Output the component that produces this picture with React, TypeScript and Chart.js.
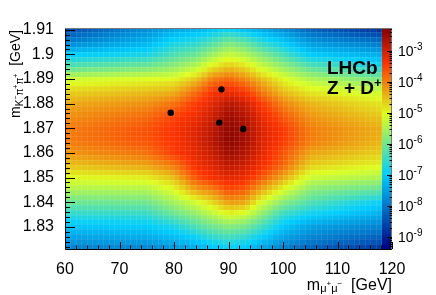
import React, { useEffect, useRef } from 'react';
import { Chart, registerables } from 'chart.js';

Chart.register(...registerables);

// ---- axis ranges & ticks ----
const X_MIN = 60;
const X_MAX = 120;
const Y_MIN = 1.821;
const Y_MAX = 1.9107;
const xTickValues = [60, 70, 80, 90, 100, 110, 120];
const yTickValues = [1.83, 1.84, 1.85, 1.86, 1.87, 1.88, 1.89, 1.9, 1.91];
const colorbarDecades = [-9, -8, -7, -6, -5, -4, -3];
const LOG_MIN = -9.39;
const LOG_MAX = -2.26;

// ---- candidates (m_mumu [GeV], m_Kpipi [GeV]) ----
const candidateMuMuMass = [79.4, 88.7, 88.3, 92.7];
const candidateKPiPiMass = [1.8763, 1.8858, 1.8723, 1.8697];

// ---- histogram binning ----
const X_BIN_WIDTH = 1;
const Y_BIN_WIDTH = 0.002;

// ---- log10(density) at these grid points ----
const knotMuMuMass = [60, 75, 80, 84, 87, 90, 93, 96, 100, 105, 120];
const knotKPiPiMass = [
  1.91, 1.905, 1.9, 1.895, 1.89, 1.885, 1.88, 1.875, 1.87, 1.865,
  1.86, 1.855, 1.85, 1.845, 1.84, 1.835, 1.83, 1.825, 1.82,
];
const logDensity = [
  [-8.5, -7.7, -7.4, -7.25, -7.05, -6.85, -7.1, -7.35, -7.7, -8.2, -8.9],
  [-7.9, -7.3, -6.8, -6.65, -6.32, -5.95, -6.15, -6.6, -7.0, -7.6, -8.1],
  [-7.0, -6.75, -6.3, -6.05, -5.6, -5.25, -5.45, -5.85, -6.35, -7.0, -7.4],
  [-6.2, -5.95, -5.7, -5.35, -4.85, -4.55, -4.75, -5.2, -5.65, -6.2, -6.8],
  [-5.2, -5.05, -5.0, -4.6, -4.0, -3.8, -4.1, -4.5, -5.0, -5.45, -6.0],
  [-4.7, -4.55, -4.45, -3.9, -3.4, -3.25, -3.45, -4.0, -4.55, -4.9, -5.3],
  [-4.35, -4.15, -3.9, -3.45, -3.15, -2.75, -2.95, -3.45, -4.05, -4.45, -4.9],
  [-4.15, -3.85, -3.5, -3.25, -2.95, -2.5, -2.7, -3.2, -3.7, -4.2, -4.65],
  [-4.0, -3.65, -3.38, -3.1, -2.8, -2.38, -2.58, -3.08, -3.45, -4.0, -4.45],
  [-4.0, -3.65, -3.38, -3.08, -2.75, -2.37, -2.55, -3.05, -3.45, -4.0, -4.5],
  [-4.2, -3.9, -3.45, -3.15, -2.9, -2.5, -2.7, -3.15, -3.65, -4.3, -4.7],
  [-4.55, -4.3, -3.95, -3.3, -3.1, -2.8, -2.95, -3.3, -3.8, -4.65, -5.0],
  [-5.0, -4.9, -4.5, -3.65, -3.35, -3.15, -3.25, -3.7, -4.35, -5.2, -5.5],
  [-5.5, -5.45, -5.05, -4.3, -4.05, -3.6, -3.75, -4.35, -5.05, -5.8, -6.2],
  [-6.05, -6.0, -5.55, -5.15, -4.75, -4.25, -4.35, -5.1, -5.8, -6.3, -7.0],
  [-6.6, -6.55, -6.1, -5.75, -5.4, -5.05, -5.2, -5.75, -6.55, -6.9, -7.45],
  [-7.1, -7.0, -6.75, -6.3, -6.0, -5.8, -5.95, -6.4, -7.05, -7.5, -7.9],
  [-7.55, -7.45, -7.25, -7.0, -6.65, -6.5, -6.65, -7.05, -7.55, -7.9, -8.4],
  [-8.0, -7.95, -7.7, -7.5, -7.25, -7.1, -7.2, -7.6, -8.0, -8.4, -9.0],
];

// ---- colour palette (LHCb style gradient) ----
const paletteStops = [0.0, 0.34, 0.61, 0.84, 1.0];
const paletteRed = [0.0, 0.0, 0.87, 1.0, 0.51];
const paletteGreen = [0.0, 0.81, 1.0, 0.2, 0.0];
const paletteBlue = [0.51, 1.0, 0.12, 0.0, 0.0];

const FONT = "'Liberation Sans', Arial, Helvetica, sans-serif";

function findSeg(arr: number[], v: number, desc: boolean) {
  const n = arr.length;
  for (let i = 0; i < n - 1; i++) {
    const a = arr[i];
    const b = arr[i + 1];
    if (desc ? v <= a && v >= b : v >= a && v <= b) {
      return { i, f: (v - a) / (b - a) };
    }
  }
  if (desc) return v > arr[0] ? { i: 0, f: 0 } : { i: n - 2, f: 1 };
  return v < arr[0] ? { i: 0, f: 0 } : { i: n - 2, f: 1 };
}

function logDensityAt(m: number, d: number) {
  const sx = findSeg(knotMuMuMass, m, false);
  const sy = findSeg(knotKPiPiMass, d, true);
  const r0 = logDensity[sy.i];
  const r1 = logDensity[sy.i + 1];
  const top = r0[sx.i] + (r0[sx.i + 1] - r0[sx.i]) * sx.f;
  const bot = r1[sx.i] + (r1[sx.i + 1] - r1[sx.i]) * sx.f;
  return top + (bot - top) * sy.f;
}

function paletteColor(lv: number) {
  let t = (lv - LOG_MIN) / (LOG_MAX - LOG_MIN);
  t = Math.max(0, Math.min(1, t));
  let k = 0;
  while (k < paletteStops.length - 2 && t > paletteStops[k + 1]) k++;
  const f = (t - paletteStops[k]) / (paletteStops[k + 1] - paletteStops[k]);
  const c = (arr: number[]) => Math.round(255 * (arr[k] + (arr[k + 1] - arr[k]) * f));
  return `rgb(${c(paletteRed)},${c(paletteGreen)},${c(paletteBlue)})`;
}

type Part = { t: string; size: number; dy?: number; bold?: boolean };

function measureParts(ctx: CanvasRenderingContext2D, parts: Part[]) {
  let w = 0;
  for (const p of parts) {
    ctx.font = `${p.bold ? 'bold ' : ''}${p.size}px ${FONT}`;
    w += ctx.measureText(p.t).width;
  }
  return w;
}

function drawParts(ctx: CanvasRenderingContext2D, parts: Part[], x: number, y: number) {
  let cx = x;
  ctx.textBaseline = 'alphabetic';
  ctx.textAlign = 'left';
  for (const p of parts) {
    ctx.font = `${p.bold ? 'bold ' : ''}${p.size}px ${FONT}`;
    ctx.fillText(p.t, cx, y + (p.dy || 0));
    cx += ctx.measureText(p.t).width;
  }
}

const heatmapPlugin = {
  id: 'heatmap',
  beforeDatasetsDraw(chart: any) {
    const { ctx, chartArea, scales } = chart;
    const xs = scales.x;
    const ys = scales.y;
    const cb = scales.cb;
    ctx.save();
    ctx.beginPath();
    ctx.rect(chartArea.left, chartArea.top, chartArea.right - chartArea.left, chartArea.bottom - chartArea.top);
    ctx.clip();
    const nx = Math.round((X_MAX - X_MIN) / X_BIN_WIDTH);
    const ny = Math.ceil((Y_MAX - Y_MIN) / Y_BIN_WIDTH);
    for (let i = 0; i < nx; i++) {
      const m0 = X_MIN + i * X_BIN_WIDTH;
      const m1 = m0 + X_BIN_WIDTH;
      const px0 = Math.round(xs.getPixelForValue(m0));
      const px1 = Math.round(xs.getPixelForValue(m1));
      for (let j = 0; j < ny; j++) {
        const d0 = Y_MIN + j * Y_BIN_WIDTH;
        const d1 = d0 + Y_BIN_WIDTH;
        const py0 = Math.round(ys.getPixelForValue(d0));
        const py1 = Math.round(ys.getPixelForValue(d1));
        ctx.fillStyle = paletteColor(logDensityAt((m0 + m1) / 2, (d0 + d1) / 2));
        ctx.fillRect(px0, py1, px1 - px0, py0 - py1);
      }
    }
    // faint cell boundaries
    ctx.strokeStyle = 'rgba(255,255,255,0.09)';
    ctx.lineWidth = 1;
    ctx.beginPath();
    for (let i = 1; i < nx; i++) {
      const px = Math.round(xs.getPixelForValue(X_MIN + i * X_BIN_WIDTH)) + 0.5;
      ctx.moveTo(px, chartArea.top);
      ctx.lineTo(px, chartArea.bottom);
    }
    for (let j = 1; j < ny; j++) {
      const py = Math.round(ys.getPixelForValue(Y_MIN + j * Y_BIN_WIDTH)) + 0.5;
      ctx.moveTo(chartArea.left, py);
      ctx.lineTo(chartArea.right, py);
    }
    ctx.stroke();

    // colour bar strip
    const barRight = chartArea.right;
    const barLeft = barRight - 10;
    const top = Math.round(cb.getPixelForValue(Math.pow(10, LOG_MAX)));
    const bottom = Math.round(cb.getPixelForValue(Math.pow(10, LOG_MIN)));
    for (let py = top; py < bottom; py++) {
      const v = cb.getValueForPixel(py + 0.5);
      ctx.fillStyle = paletteColor(Math.log10(v));
      ctx.fillRect(barLeft, py, barRight - barLeft, 1);
    }
    ctx.restore();
  },
  afterDatasetsDraw(chart: any) {
    const { ctx, chartArea, scales } = chart;
    const xs = scales.x;
    const ys = scales.y;
    const cb = scales.cb;
    const L = chartArea.left;
    const R = chartArea.right;
    const T = chartArea.top;
    const B = chartArea.bottom;
    ctx.save();
    // frame
    ctx.strokeStyle = '#000';
    ctx.lineWidth = 1;
    ctx.beginPath();
    ctx.moveTo(L + 0.5, T);
    ctx.lineTo(L + 0.5, B + 0.5);
    ctx.lineTo(R, B + 0.5);
    ctx.stroke();
    ctx.strokeStyle = '#777';
    ctx.beginPath();
    ctx.moveTo(L, T + 0.5);
    ctx.lineTo(R, T + 0.5);
    ctx.moveTo(R - 0.5, T);
    ctx.lineTo(R - 0.5, B);
    ctx.stroke();

    // x ticks (inside)
    ctx.strokeStyle = '#000';
    ctx.beginPath();
    for (let v = X_MIN; v <= X_MAX + 1e-9; v += 2) {
      const px = Math.round(xs.getPixelForValue(v)) + 0.5;
      const major = xTickValues.includes(v);
      ctx.moveTo(px, B);
      ctx.lineTo(px, B - (major ? 7 : 3.5));
    }
    // y ticks (inside)
    for (let k = 0; k <= 45; k++) {
      const v = 1.82 + k * 0.002;
      if (v < Y_MIN - 1e-9 || v > Y_MAX + 1e-9) continue;
      const py = Math.round(ys.getPixelForValue(v)) + 0.5;
      const major = k % 5 === 0;
      ctx.moveTo(L, py);
      ctx.lineTo(L + (major ? 10 : 5), py);
    }
    ctx.stroke();

    // colour bar ticks and labels
    ctx.beginPath();
    for (let e = -10; e <= -2; e++) {
      for (let m = 1; m <= 9; m++) {
        const lv = e + Math.log10(m);
        if (lv < LOG_MIN || lv > LOG_MAX) continue;
        const py = Math.round(cb.getPixelForValue(Math.pow(10, lv))) + 0.5;
        ctx.moveTo(R, py);
        ctx.lineTo(R - (m === 1 ? 5 : 2.5), py);
      }
    }
    ctx.stroke();
    ctx.fillStyle = '#000';
    for (const e of colorbarDecades) {
      const py = cb.getPixelForValue(Math.pow(10, e));
      drawParts(ctx, [
        { t: '10', size: 14 },
        { t: String(e), size: 10, dy: -6 },
      ], R + 6, py + 5);
    }

    // x title
    const xParts: Part[] = [
      { t: 'm', size: 16 },
      { t: 'μ', size: 11, dy: 2 },
      { t: '+', size: 8, dy: -4 },
      { t: 'μ', size: 11, dy: 2 },
      { t: '−', size: 8, dy: -4 },
      { t: '  [GeV]', size: 16 },
    ];
    const xw = measureParts(ctx, xParts);
    drawParts(ctx, xParts, R - xw, 290);

    // y title (rotated)
    const yParts: Part[] = [
      { t: 'm', size: 14 },
      { t: 'K', size: 10, dy: 3 },
      { t: '−', size: 7, dy: -2 },
      { t: 'π', size: 10, dy: 3 },
      { t: '+', size: 7, dy: -2 },
      { t: 'π', size: 10, dy: 3 },
      { t: '+', size: 7, dy: -2 },
      { t: '  [GeV]', size: 14 },
    ];
    const yw = measureParts(ctx, yParts);
    ctx.save();
    ctx.translate(20, T + 2);
    ctx.rotate(-Math.PI / 2);
    drawParts(ctx, yParts, -yw, 0);
    ctx.restore();

    // LHCb label
    drawParts(ctx, [{ t: 'LHCb', size: 19, bold: true }], 327, 73.5);
    drawParts(ctx, [
      { t: 'Z + D', size: 19, bold: true },
      { t: '+', size: 13, bold: true, dy: -7 },
    ], 327, 94);
    ctx.restore();
  },
};

export default function App() {
  const canvasRef = useRef<HTMLCanvasElement | null>(null);

  useEffect(() => {
    const canvas = canvasRef.current;
    if (!canvas) return;
    const points = candidateMuMuMass.map((m, i) => ({ x: m, y: candidateKPiPiMass[i] }));
    const chart = new Chart(canvas, {
      type: 'scatter',
      data: {
        datasets: [
          {
            data: points,
            backgroundColor: '#000',
            borderColor: '#000',
            pointRadius: 3.2,
            pointHoverRadius: 3.2,
            borderWidth: 0,
          },
        ],
      },
      options: {
        animation: false,
        responsive: false,
        maintainAspectRatio: false,
        devicePixelRatio: 1,
        events: [],
        layout: { padding: { top: 28, right: 0, left: 0, bottom: 0 } },
        plugins: {
          legend: { display: false },
          tooltip: { enabled: false },
          title: { display: false },
        },
        scales: {
          x: {
            type: 'linear',
            position: 'bottom',
            min: X_MIN,
            max: X_MAX,
            grid: { display: false },
            border: { display: false },
            afterBuildTicks: (s: any) => {
              s.ticks = xTickValues.map((v) => ({ value: v }));
            },
            afterFit: (s: any) => {
              s.height = 46;
            },
            ticks: {
              color: '#000',
              font: { family: FONT, size: 16 },
              padding: 3,
              maxRotation: 0,
              autoSkip: false,
              callback: (v: any) => String(v),
            },
          },
          y: {
            type: 'linear',
            position: 'left',
            min: Y_MIN,
            max: Y_MAX,
            grid: { display: false },
            border: { display: false },
            afterBuildTicks: (s: any) => {
              s.ticks = yTickValues.map((v) => ({ value: v }));
            },
            afterFit: (s: any) => {
              s.width = 65;
            },
            ticks: {
              color: '#000',
              font: { family: FONT, size: 16 },
              padding: 3,
              autoSkip: false,
              callback: (v: any) => String(Math.round(Number(v) * 100) / 100),
            },
          },
          cb: {
            type: 'logarithmic',
            position: 'right',
            min: Math.pow(10, LOG_MIN),
            max: Math.pow(10, LOG_MAX),
            grid: { display: false },
            border: { display: false },
            ticks: { display: false },
            afterFit: (s: any) => {
              s.width = 44;
            },
          },
        },
      } as any,
      plugins: [heatmapPlugin],
    });
    return () => chart.destroy();
  }, []);

  return (
    <div style={{ position: 'fixed', left: 0, top: 0, width: 436, height: 295, background: '#fff' }}>
      <canvas ref={canvasRef} width={436} height={295} style={{ width: 436, height: 295, display: 'block' }} />
    </div>
  );
}
